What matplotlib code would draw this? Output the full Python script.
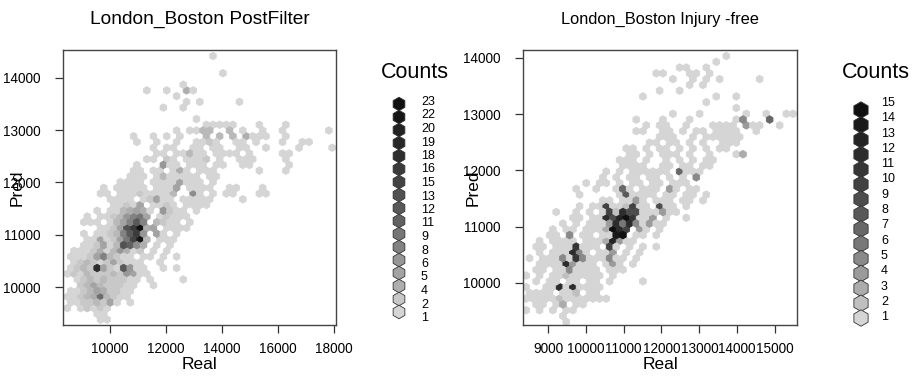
import numpy as np
import matplotlib
matplotlib.use("Agg")
import matplotlib.pyplot as plt
from matplotlib.colors import LinearSegmentedColormap, Normalize

plt.rcParams['font.family'] = ['Liberation Sans', 'DejaVu Sans']

# hex cell counts, one string per hex row (top row first)
# '.' = empty, '1'..'9' = 1..9, 'a'..'n' = 10..23; odd rows are shifted half a cell
postfilter_rows = [
    "......................1",
    "",
    "",
    ".......................1",
    "",
    ".................1",
    "............1..1..41",
    "................1",
    "..................1.1.....1",
    "..............1..1",
    "",
    "...................1",
    ".....................11111...1...1",
    "................1.1133..3.1..1..1......1",
    "..........1..1.1.1...3.3.3.4111..1",
    "..........1..1..1..1121..11.1...1..11",
    ".............1.11..11.11..11..1....1....1",
    ".............11.11311.1111.1....11",
    "............11.21.1112.1..111....1",
    "..........1...611.111.11..11.....1",
    "..........11.11.141.111......1...1",
    ".........111.1311111.11",
    "........1111.11115111.1",
    ".....1.11111.1115.1111..11...1",
    ".....11.111211113..71.1.11...11",
    "......1111.12511.11111....1",
    ".......11215.1121.1111",
    "....1.1134541.6211.1",
    "...1.11236895.12111",
    "..111.1358c8.3211.1",
    ".....1125dgn45.1111",
    "..1.11238cg6.51.1",
    "...1151259fm3.111",
    "..112513db74.1.1",
    ".11124136412.1.1",
    "1112583211.11.1.1",
    ".12321252111..1",
    "1232i521c611..1.1",
    "1213222326511",
    ".1232322211.1....1",
    "..235322211..1",
    "1123542211",
    "11234a3211",
    "11223251.1",
    "1.12121",
    "....11",
    ".....11",
]

injuryfree_rows = [
    "..............................1",
    "............................1",
    ".......................11..1",
    "...................11...11.1",
    "......................1..1.1.1.....1",
    "........................1.1",
    "....................1..1",
    ".................1..........1..1",
    "...........................1",
    "...............................1",
    "......................1...1......1..1..11",
    "................1...1...1......15...7",
    "..................1.11..1...1111.411..1",
    "................11..11.1.11.1111..1",
    "....................111..1.111111",
    "..................11.11.1.1..111",
    "...............11.1.11.1.1.1.11",
    "...............11.1.111.1..1...13",
    "..............111.1..1.1.1.11",
    "..............1111..11.11.11",
    "............1.1.111111.7111",
    "...........1.1.11.11.1.1.5",
    ".........1.11.1.11.11.111",
    ".......1..1..171.111.41.11",
    "........1.....181111.11.11.1",
    "...........11.1141.111.11.1",
    "........1.11a112a11.911.1",
    "....1..1.1.1a2c99111411",
    ".......11.11c9dfb114.1..1",
    ".....1.1.1114c6c51411",
    "....1.11.1113fca.41.1",
    "...11.5.11.11ef.11.1",
    "..1.1111.1113d411",
    ".11.111b111.a1.1.1.1",
    "..1.111c51.114.1.1",
    "1.11151b5111511.1",
    "..1111c4111.141.1",
    ".11.1151111.111",
    "1.1.11211111.1",
    ".1.11.11.11.1....1",
    "1..11c1c1111",
    "1111.112.11",
    "1111121111111",
    ".11.13.11",
    "1.1.1.11",
    ".....1",
    "......1",
]

post_legend = [23, 22, 20, 19, 18, 16, 15, 13, 12, 11, 9, 8, 6, 5, 4, 2, 1]
injury_legend = [15, 14, 13, 12, 11, 10, 9, 8, 7, 6, 5, 4, 3, 2, 1]

post_xticks = [10000, 12000, 14000, 16000, 18000]
post_yticks = [10000, 11000, 12000, 13000, 14000]
injury_xticks = [9000, 10000, 11000, 12000, 13000, 14000, 15000]
injury_yticks = [10000, 11000, 12000, 13000, 14000]

LEVEL = {str(i): i for i in range(1, 10)}
LEVEL.update({ch: 10 + k for k, ch in enumerate("abcdefghijklmn")})

# grey ramp that darkens quickly at the low end, like the key in the picture
grays = LinearSegmentedColormap.from_list(
    "lingray", [(0.0, "#d5d5d5"), (0.1, "#b6b6b6"), (0.25, "#929292"),
                (0.45, "#626262"), (0.7, "#383838"), (1.0, "#101010")])
W, H = 914, 377


def cells(rows, x0, dx, ytop, dy):
    xs, ys, cs = [], [], []
    for r, line in enumerate(rows):
        for c, ch in enumerate(line):
            if ch == '.':
                continue
            xs.append(x0 + dx * (c + 0.5 * (r % 2)))
            ys.append(ytop - dy * r)
            cs.append(LEVEL[ch])
    return np.array(xs), np.array(ys), np.array(cs)


def panel(box, rows, grid, xlim, ylim, xticks, yticks, title, tsize, vmax, ylab_x):
    ax = fig.add_axes([box[0] / W, (H - box[1] - box[3]) / H, box[2] / W, box[3] / H])
    x0, dx, ytop, dy = grid
    xs, ys, cs = cells(rows, x0, dx, ytop, dy)
    nr = len(rows) - 1
    ax.hexbin(xs, ys, C=cs, reduce_C_function=np.sum, gridsize=(40, nr // 2),
              extent=(x0, x0 + 40 * dx, ytop - nr * dy, ytop),
              cmap=grays, norm=Normalize(1, vmax),
              edgecolors='face', linewidths=0.6)
    ax.set_xlim(*xlim)
    ax.set_ylim(*ylim)
    ax.set_xticks(xticks)
    ax.set_yticks(yticks)
    ax.tick_params(direction='out', length=6, width=0.9, colors='#333333',
                   labelsize=9.8, labelcolor='black')
    ax.tick_params(axis='y', pad=10)
    ax.tick_params(axis='x', pad=6.5)
    for s in ax.spines.values():
        s.set_color('#444444')
        s.set_linewidth(1.0)
    ax.set_title(title, fontsize=tsize, pad=19)
    ax.set_xlabel("Real", fontsize=12.5)
    ax.set_ylabel("Pred", fontsize=12.5)
    ax.xaxis.set_label_coords(0.5, -0.118)
    ax.yaxis.set_label_coords(ylab_x, 0.5)
    return ax


fig = plt.figure(figsize=(W / 100, H / 100), dpi=100)

panel((63, 50, 273, 275), postfilter_rows, (8477, 236.4, 14420, 109.65),
      (8320, 18070), (9273, 14535), post_xticks, post_yticks,
      "London_Boston PostFilter", 13.8, max(post_legend), -0.14)
panel((523, 50, 274, 275), injuryfree_rows, (8424, 176.3, 14035, 102.7),
      (8339, 15582), (9253, 14142), injury_xticks, injury_yticks,
      "London_Boston Injury -free", 11.8, max(injury_legend), -0.155)

# colour keys
lg = fig.add_axes([0, 0, 1, 1])
lg.set_xlim(0, W)
lg.set_ylim(H, 0)
lg.axis('off')


def key(levels, hx, hy0, hstep, s, tx, ty0, tstep, cx, cy):
    n = len(levels)
    norm = Normalize(1, max(levels))
    ys = hy0 + hstep * np.arange(n)
    lg.scatter(np.full(n, hx), ys, s=s, marker='h', c=levels, cmap=grays,
               norm=norm, edgecolors='#333333', linewidths=0.6)
    for i, v in enumerate(levels):
        lg.text(tx, ty0 + tstep * i, str(v), fontsize=9, ha='left', va='center')
    lg.text(cx, cy, "Counts", fontsize=15.5, ha='center', va='center')


key(post_legend, 399, 104, 13.0, 95, 421, 102, 13.5, 415, 72)
key(injury_legend, 861, 110, 14.86, 140, 881, 103, 15.3, 876, 73)

fig.savefig("out.png", dpi=100)
